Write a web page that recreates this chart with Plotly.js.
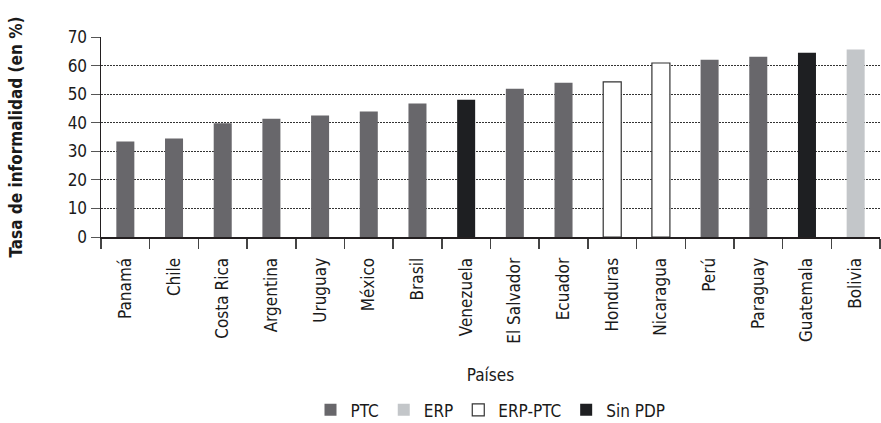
<!DOCTYPE html>
<html>
<head>
<meta charset="utf-8">
<script src="https://cdn.plot.ly/plotly-3.0.1.min.js"></script>
<style>html,body{margin:0;padding:0;background:#fff;}#chart{width:881px;height:423px;}</style>
</head>
<body>
<div id="chart"></div>
<script>
const countries = ["Panamá","Chile","Costa Rica","Argentina","Uruguay","México","Brasil","Venezuela","El Salvador","Ecuador","Honduras","Nicaragua","Perú","Paraguay","Guatemala","Bolivia"];
const values = [33.4, 34.5, 39.8, 41.4, 42.5, 43.9, 46.7, 48.0, 51.9, 54.0, 54.3, 60.9, 62.0, 63.1, 64.5, 65.6];
const groups = ["PTC","PTC","PTC","PTC","PTC","PTC","PTC","Sin PDP","PTC","PTC","ERP-PTC","ERP-PTC","PTC","PTC","Sin PDP","ERP"];
const groupNames = ["PTC","ERP","ERP-PTC","Sin PDP"];
const groupFill = {"PTC":"#68676b","ERP":"#c3c6c9","ERP-PTC":"#ffffff","Sin PDP":"#1e1f22"};
const groupLine = {"PTC":"#68676b","ERP":"#c3c6c9","ERP-PTC":"#333333","Sin PDP":"#1e1f22"};

const FONT = '"Liberation Sans Narrow", "DejaVu Sans Condensed", Arial, sans-serif';

const traces = groupNames.map(g => {
  const xs = [], ys = [];
  countries.forEach((c, i) => { if (groups[i] === g) { xs.push(c); ys.push(values[i]); } });
  return {
    type: 'bar', name: g, x: xs, y: ys, width: 0.37,
    marker: {color: groupFill[g], line: {color: groupLine[g], width: g === 'ERP-PTC' ? 1.2 : 0}},
    hoverinfo: 'x+y'
  };
});

const layout = {
  width: 881, height: 423,
  margin: {l: 101, r: 1, t: 37, b: 186},
  paper_bgcolor: '#fff', plot_bgcolor: '#fff',
  barmode: 'overlay',
  font: {family: FONT, size: 16, color: '#1a1a1a'},
  showlegend: true,
  legend: {orientation: 'h', x: 0.5, xanchor: 'center', yref: 'container', y: 0.03, yanchor: 'middle',
           font: {family: FONT, size: 17, color: '#1a1a1a'}, traceorder: 'normal', itemwidth: 30},
  xaxis: {
    type: 'category', categoryorder: 'array', categoryarray: countries, automargin: false,
    tickangle: -90, tickson: 'boundaries', ticks: 'outside', ticklen: 10, tickcolor: '#444', tickwidth: 1.5,
    ticklabelstandoff: 12,
    showline: true, linecolor: '#231f20', linewidth: 2, showgrid: false,
    tickfont: {family: FONT, size: 17, color: '#1a1a1a'},
    title: {text: 'Países', font: {family: FONT, size: 17, color: '#1a1a1a'}, standoff: 26},
    range: [-0.5, 15.5]
  },
  yaxis: {
    range: [0, 70], dtick: 10, tick0: 0, automargin: false,
    ticks: 'outside', ticklen: 9, tickcolor: '#555', tickwidth: 1,
    showline: true, linecolor: '#231f20', linewidth: 1.5,
    showgrid: true, gridcolor: '#333', griddash: '1.5px,1.5px', gridwidth: 1,
    zeroline: false,
    tickfont: {family: FONT, size: 17, color: '#1a1a1a'},
    title: {text: '<b>Tasa de informalidad (en %)</b>', font: {family: FONT, size: 17, color: '#1a1a1a'}, standoff: 40}
  }
};

Plotly.newPlot('chart', traces, layout, {displayModeBar: false, staticPlot: true});
</script>
</body>
</html>
